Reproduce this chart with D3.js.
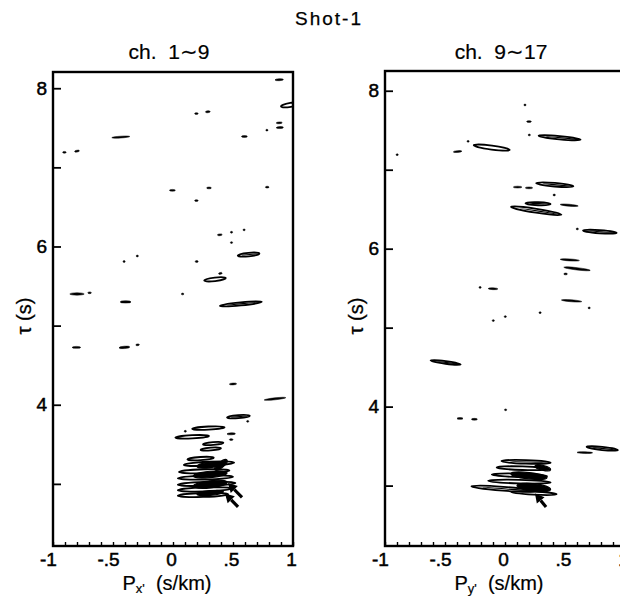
<!DOCTYPE html>
<html><head><meta charset="utf-8">
<script src="https://cdn.jsdelivr.net/npm/d3@7/dist/d3.min.js"></script>
<style>
html,body{margin:0;padding:0;background:#fff;}
svg{display:block;font-family:"Liberation Sans",Arial,Helvetica,sans-serif;}
</style></head>
<body><svg id="c" width="620" height="599"></svg>
<script>
// ---------- DATA ----------
const chartTitle = "Shot-1";
const panelTitles = ["ch.\u00a0\u00a01\u223C9", "ch.\u00a0\u00a09\u223C17"];
const xAxisNames = [["P", "x'"], ["P", "y'"]];
const yAxisName = "\u03C4 (s)";
const xTickValues = [-1, -0.5, 0, 0.5, 1];
const xTickLabels = ["-1", "-.5", "0", ".5", "1"];
const yTickValues = [3, 4, 5, 6, 7, 8];
const yTickLabels = ["", "4", "", "6", "", "8"];

// contour features: [p1, tau1, p2, tau2, thickness(s), kind]
// kind: f = small filled, o = outline, d = double outline, b = filled blob
const leftContours = [
  [0.85, 8.105, 0.92, 8.11, 0.025, "f"],
  [0.90, 7.77, 1.06, 7.81, 0.05, "o"],
  [0.18, 7.68, 0.21, 7.68, 0.02, "f"],
  [0.27, 7.70, 0.31, 7.705, 0.025, "f"],
  [0.86, 7.56, 0.91, 7.565, 0.02, "f"],
  [0.78, 7.47, 0.785, 7.47, 0.02, "f"],
  [0.86, 7.50, 0.92, 7.505, 0.025, "f"],
  [-0.51, 7.375, -0.36, 7.39, 0.02, "f"],
  [0.57, 7.39, 0.62, 7.39, 0.02, "f"],
  [-0.92, 7.19, -0.89, 7.19, 0.015, "f"],
  [-0.82, 7.20, -0.78, 7.21, 0.02, "f"],
  [-0.03, 6.71, 0.02, 6.71, 0.02, "f"],
  [0.28, 6.74, 0.32, 6.74, 0.02, "f"],
  [0.77, 6.75, 0.80, 6.75, 0.02, "f"],
  [0.18, 6.58, 0.21, 6.58, 0.02, "f"],
  [0.37, 6.145, 0.41, 6.15, 0.02, "f"],
  [0.485, 6.18, 0.49, 6.18, 0.02, "f"],
  [0.59, 6.21, 0.595, 6.21, 0.02, "f"],
  [0.485, 6.05, 0.49, 6.05, 0.02, "f"],
  [0.54, 5.885, 0.72, 5.91, 0.045, "d"],
  [-0.41, 5.81, -0.405, 5.81, 0.02, "f"],
  [-0.30, 5.88, -0.295, 5.88, 0.02, "f"],
  [0.185, 5.81, 0.21, 5.81, 0.02, "f"],
  [0.38, 5.655, 0.41, 5.665, 0.02, "f"],
  [0.26, 5.57, 0.44, 5.60, 0.045, "o"],
  [-0.86, 5.40, -0.74, 5.40, 0.03, "f"],
  [-0.71, 5.415, -0.68, 5.415, 0.02, "f"],
  [0.07, 5.40, 0.09, 5.40, 0.02, "f"],
  [-0.44, 5.30, -0.35, 5.30, 0.03, "f"],
  [0.39, 5.25, 0.74, 5.30, 0.04, "d"],
  [-0.84, 4.725, -0.77, 4.725, 0.025, "f"],
  [-0.45, 4.72, -0.36, 4.73, 0.03, "f"],
  [-0.31, 4.755, -0.28, 4.76, 0.02, "f"],
  [0.47, 4.26, 0.53, 4.265, 0.02, "f"],
  [0.76, 4.06, 0.94, 4.09, 0.025, "f"],
  [0.45, 3.84, 0.64, 3.86, 0.04, "d"],
  [0.62, 3.79, 0.625, 3.79, 0.02, "f"],
  [0.16, 3.695, 0.43, 3.715, 0.04, "o"],
  [0.02, 3.585, 0.30, 3.605, 0.04, "o"],
  [0.10, 3.665, 0.105, 3.665, 0.02, "f"],
  [0.45, 3.63, 0.52, 3.635, 0.025, "f"],
  [0.47, 3.56, 0.50, 3.56, 0.02, "f"],
  [0.25, 3.50, 0.42, 3.52, 0.035, "o"],
  [0.23, 3.43, 0.40, 3.45, 0.035, "o"],
  [0.12, 3.31, 0.34, 3.33, 0.04, "o"],
  [0.09, 3.24, 0.51, 3.27, 0.05, "o"],
  [0.05, 3.15, 0.47, 3.17, 0.05, "o"],
  [0.04, 3.07, 0.50, 3.09, 0.05, "o"],
  [0.04, 2.99, 0.52, 3.01, 0.05, "o"],
  [0.04, 2.92, 0.49, 2.94, 0.05, "o"],
  [0.04, 2.85, 0.46, 2.87, 0.05, "o"],
  [0.20, 3.22, 0.42, 3.26, 0.07, "b"],
  [0.17, 3.10, 0.45, 3.14, 0.08, "b"],
  [0.17, 2.97, 0.45, 3.02, 0.09, "b"],
  [0.20, 2.87, 0.42, 2.90, 0.06, "b"],
  [0.35, 3.18, 0.45, 3.30, 0.07, "b"]
];
const rightContours = [
  [0.165, 7.82, 0.168, 7.82, 0.01, "f"],
  [0.18, 7.61, 0.22, 7.61, 0.02, "f"],
  [0.20, 7.44, 0.205, 7.44, 0.02, "f"],
  [0.28, 7.43, 0.63, 7.38, 0.04, "d"],
  [-0.90, 7.19, -0.897, 7.19, 0.015, "f"],
  [-0.31, 7.36, -0.305, 7.36, 0.02, "f"],
  [-0.43, 7.225, -0.36, 7.235, 0.02, "f"],
  [-0.26, 7.31, 0.04, 7.25, 0.05, "o"],
  [0.07, 6.78, 0.14, 6.78, 0.02, "f"],
  [0.17, 6.77, 0.23, 6.77, 0.015, "f"],
  [0.26, 6.83, 0.57, 6.79, 0.045, "d"],
  [0.40, 6.68, 0.42, 6.68, 0.02, "f"],
  [0.17, 6.575, 0.38, 6.565, 0.04, "d"],
  [0.46, 6.56, 0.61, 6.54, 0.025, "f"],
  [0.05, 6.53, 0.47, 6.43, 0.05, "d"],
  [0.60, 6.25, 0.605, 6.25, 0.015, "f"],
  [0.65, 6.23, 0.93, 6.20, 0.04, "d"],
  [0.46, 5.865, 0.62, 5.85, 0.025, "f"],
  [0.49, 5.765, 0.71, 5.725, 0.03, "f"],
  [0.49, 5.68, 0.52, 5.68, 0.02, "f"],
  [-0.21, 5.51, -0.205, 5.51, 0.02, "f"],
  [-0.14, 5.495, -0.06, 5.49, 0.02, "f"],
  [0.47, 5.35, 0.64, 5.33, 0.025, "f"],
  [0.70, 5.25, 0.703, 5.25, 0.015, "f"],
  [-0.10, 5.09, -0.095, 5.09, 0.02, "f"],
  [0.0, 5.14, 0.005, 5.14, 0.015, "f"],
  [0.29, 5.19, 0.295, 5.19, 0.015, "f"],
  [-0.62, 4.585, -0.37, 4.535, 0.035, "d"],
  [0.0, 3.96, 0.01, 3.96, 0.02, "f"],
  [-0.40, 3.85, -0.35, 3.85, 0.015, "f"],
  [-0.28, 3.84, -0.23, 3.84, 0.015, "f"],
  [0.60, 3.42, 0.73, 3.415, 0.02, "f"],
  [0.68, 3.49, 0.94, 3.45, 0.04, "d"],
  [-0.03, 3.31, 0.38, 3.29, 0.045, "d"],
  [-0.07, 3.23, 0.36, 3.21, 0.045, "o"],
  [-0.11, 3.14, 0.35, 3.12, 0.045, "o"],
  [-0.14, 3.06, 0.38, 3.04, 0.045, "o"],
  [-0.28, 2.99, 0.25, 2.93, 0.05, "d"],
  [0.05, 2.92, 0.43, 2.89, 0.04, "o"],
  [0.05, 3.15, 0.35, 3.10, 0.08, "b"],
  [0.10, 3.00, 0.38, 2.95, 0.10, "b"],
  [0.25, 3.25, 0.38, 3.20, 0.06, "b"]
];
// arrows: [tail p, tail tau, head p, head tau]
const leftArrows = [[0.575, 2.83, 0.458, 3.01], [0.542, 2.71, 0.433, 2.88]];
const rightArrows = [[0.342, 2.73, 0.25, 2.90]];

// ---------- LAYOUT ----------
const svg = d3.select("#c");
const panels = [
  {x0: 53, x1: 293, yTop: 72, yBot: 546, dom: [2.215, 8.205], data: leftContours, arrows: leftArrows},
  {x0: 385, x1: 625, yTop: 71, yBot: 546, dom: [2.235, 8.25], data: rightContours, arrows: rightArrows}
];
const FONT = "Liberation Sans, Arial, sans-serif";

svg.append("text").attr("x", 329).attr("y", 25).attr("text-anchor", "middle")
  .attr("font-size", 19).attr("letter-spacing", 2).attr("stroke", "#000").attr("stroke-width", 0.25).text(chartTitle);

panels.forEach((P, i) => {
  const xs = d3.scaleLinear().domain([-1, 1]).range([P.x0, P.x1]);
  const ys = d3.scaleLinear().domain(P.dom).range([P.yBot, P.yTop]);
  const g = svg.append("g");
  const cid = "clip" + i;
  svg.append("defs").append("clipPath").attr("id", cid).append("rect")
    .attr("x", P.x0).attr("y", P.yTop).attr("width", P.x1 - P.x0).attr("height", P.yBot - P.yTop);
  const plot = g.append("g").attr("clip-path", `url(#${cid})`);

  P.data.forEach(d => {
    const [p1, t1, p2, t2, th, kind] = d;
    const X1 = xs(p1), Y1 = ys(t1), X2 = xs(p2), Y2 = ys(t2);
    const cx = (X1 + X2) / 2, cy = (Y1 + Y2) / 2;
    let rx = Math.hypot(X2 - X1, Y2 - Y1) / 2;
    let ry = Math.abs(ys(0) - ys(th)) / 2;
    rx = Math.max(rx, 1.1); ry = Math.max(ry, 0.9);
    const ang = Math.atan2(Y2 - Y1, X2 - X1) * 180 / Math.PI;
    const tr = `rotate(${ang},${cx},${cy})`;
    const e = plot.append("ellipse").attr("cx", cx).attr("cy", cy).attr("rx", rx).attr("ry", ry).attr("transform", tr);
    if (kind === "f" || kind === "b") {
      e.attr("fill", "#000").attr("stroke", "#000").attr("stroke-width", kind === "b" ? 1.2 : 0.5);
    } else {
      e.attr("fill", "none").attr("stroke", "#000").attr("stroke-width", 1.8);
      if (kind === "d") {
        plot.append("ellipse").attr("cx", cx + rx * 0.1).attr("cy", cy).attr("rx", rx * 0.75).attr("ry", Math.max(ry * 0.3, 0.6))
          .attr("transform", tr).attr("fill", "#000").attr("stroke", "none");
      }
    }
  });

  P.arrows.forEach(a => {
    const [tp, tt, hp, ht] = a;
    const X1 = xs(tp), Y1 = ys(tt), X2 = xs(hp), Y2 = ys(ht);
    const ang = Math.atan2(Y2 - Y1, X2 - X1);
    const L = 9, W = 5;
    const bx = X2 - L * Math.cos(ang), by = Y2 - L * Math.sin(ang);
    plot.append("line").attr("x1", X1).attr("y1", Y1).attr("x2", bx).attr("y2", by)
      .attr("stroke", "#000").attr("stroke-width", 3.2);
    const pts = [[X2, Y2],
      [bx + W * Math.sin(ang), by - W * Math.cos(ang)],
      [bx - W * Math.sin(ang), by + W * Math.cos(ang)]];
    plot.append("polygon").attr("points", pts.map(p => p.join(",")).join(" ")).attr("fill", "#000");
  });

  // frame
  g.append("rect").attr("x", P.x0).attr("y", P.yTop).attr("width", P.x1 - P.x0).attr("height", P.yBot - P.yTop)
    .attr("fill", "none").attr("stroke", "#000").attr("stroke-width", 2.4);

  // y ticks (inward)
  g.append("g").attr("transform", `translate(${P.x0},0)`)
    .call(d3.axisRight(ys).tickValues(yTickValues).tickSize(8).tickFormat(""))
    .call(s => { s.select(".domain").remove(); s.selectAll("line").attr("stroke-width", 1.8); });
  // y labels
  g.append("g").attr("transform", `translate(${P.x0},0)`)
    .call(d3.axisLeft(ys).tickValues(yTickValues).tickSize(0).tickPadding(6)
      .tickFormat((v, k) => yTickLabels[k]))
    .call(s => { s.select(".domain").remove();
      s.selectAll("text").attr("font-size", 19).attr("font-family", FONT).attr("fill", "#000")
        .attr("stroke", "#000").attr("stroke-width", 0.5); });

  // x minor ticks (inward)
  const minor = d3.range(-10, 11).map(k => k / 10);
  g.append("g").attr("transform", `translate(0,${P.yBot})`)
    .call(d3.axisTop(xs).tickValues(minor).tickSize(4).tickFormat(""))
    .call(s => { s.select(".domain").remove(); s.selectAll("line").attr("stroke-width", 1.4); });
  // x labels
  g.append("g").attr("transform", `translate(0,${P.yBot})`)
    .call(d3.axisBottom(xs).tickValues(xTickValues).tickSize(0).tickPadding(7)
      .tickFormat((v, k) => xTickLabels[k]))
    .call(s => { s.select(".domain").remove();
      s.selectAll("text").attr("font-size", 19).attr("font-family", FONT)
        .attr("fill", "#000").attr("stroke", "#000").attr("stroke-width", 0.5)
        .attr("dx", (v) => v < 0 ? -5 : -2); });

  const cxm = (P.x0 + P.x1) / 2;
  // panel title
  g.append("text").attr("x", cxm - 4).attr("y", 59).attr("text-anchor", "middle")
    .attr("font-size", 21).attr("stroke", "#000").attr("stroke-width", 0.2).text(panelTitles[i]);
  // x axis name
  const xt = g.append("text").attr("x", cxm - 6).attr("y", 590).attr("text-anchor", "middle")
    .attr("font-size", 20).attr("stroke", "#000").attr("stroke-width", 0.2);
  xt.append("tspan").text(xAxisNames[i][0]);
  xt.append("tspan").attr("font-size", 13).attr("dy", 3).text(xAxisNames[i][1]);
  xt.append("tspan").attr("dy", -3).text("\u00a0\u00a0(s/km)");
  // y axis name
  g.append("text").attr("transform", `translate(${P.x0 - 22},316) rotate(-90)`).attr("text-anchor", "middle")
    .attr("font-size", 20).attr("stroke", "#000").attr("stroke-width", 0.3).text(yAxisName);
});
</script></body></html>
